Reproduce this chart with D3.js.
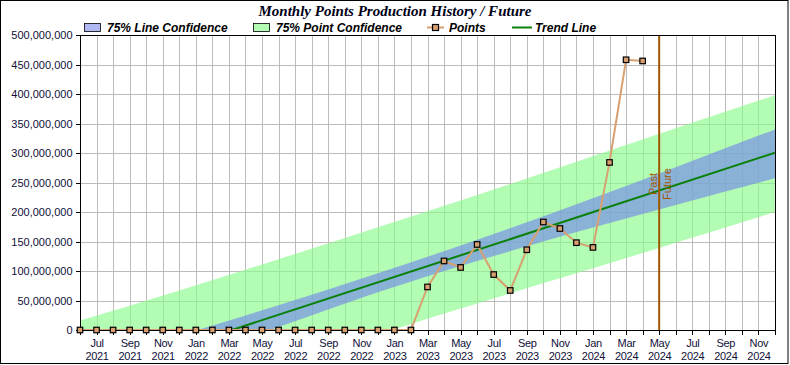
<!DOCTYPE html>
<meta charset="utf-8">
<style>
body { margin: 0; background: #fff; }
svg { display: block; font-family: Arial, "Liberation Sans", sans-serif; }
.axis text { font-size: 11px; fill: #101038; }
.axis path, .axis line { stroke: #000; shape-rendering: crispEdges; }
.grid line { stroke: #bcbcbc; shape-rendering: crispEdges; }
</style>
<body>
<script src="https://d3js.org/d3.v7.min.js"></script>
<script>
var width = 790, height = 365;
var plotLeft = 80, plotRight = 775, plotTop = 35, plotBottom = 330;

// months on the x axis (one slot per month)
var months = [
  "2021-06","2021-07","2021-08","2021-09","2021-10","2021-11","2021-12",
  "2022-01","2022-02","2022-03","2022-04","2022-05","2022-06","2022-07","2022-08","2022-09","2022-10","2022-11","2022-12",
  "2023-01","2023-02","2023-03","2023-04","2023-05","2023-06","2023-07","2023-08","2023-09","2023-10","2023-11","2023-12",
  "2024-01","2024-02","2024-03","2024-04","2024-05","2024-06","2024-07","2024-08","2024-09","2024-10","2024-11","2024-12"
];
var monthNames = ["Jan","Feb","Mar","Apr","May","Jun","Jul","Aug","Sep","Oct","Nov","Dec"];

// monthly points, millions (Jun 2021 .. Apr 2024)
var points = [0,0,0,0,0,0,0, 0,0,0,0,0,0,0,0,0,0,0,0, 0,0,
  73,117,106,145,94,67,136,183,172,148, 140,284,458,456];

// trend line and confidence bands, millions, read at these months
var trendMonths = ["2021-06","2024-12"];
var trend = [-84, 300.5];
var bandMonths = ["2021-06","2021-12","2022-06","2022-12","2023-06","2023-12","2024-06","2024-12"];
var lineUpper  = [-55, -9, 42, 96, 153, 213, 276, 340];
var lineLower  = [-115, -52, 5, 64, 117, 166, 212, 257];
var pointUpper = [16, 67, 120, 174, 229, 285, 342, 398];
var pointLower = [-184, -125, -68, -8, 45, 96, 148, 200];

var yTicks = [0,50,100,150,200,250,300,350,400,450,500];
var splitMonth = "2024-05";

var svg = d3.select("body").append("svg")
  .attr("width", width)
  .attr("height", height);

var x = d3.scalePoint().domain(months).range([plotLeft, plotRight]);
var y = d3.scaleLinear().domain([0, 500]).range([plotBottom, plotTop]);

svg.append("rect")
  .attr("x", 0.5).attr("y", 0.5)
  .attr("width", 787.5).attr("height", 363)
  .attr("fill", "#fff").attr("stroke", "#000");

svg.append("defs").append("clipPath").attr("id", "plot")
  .append("rect")
  .attr("x", plotLeft).attr("y", plotTop)
  .attr("width", plotRight - plotLeft).attr("height", plotBottom - plotTop);

// grid
var grid = svg.append("g").attr("class", "grid");
grid.selectAll(".v").data(months.slice(1, -1)).enter().append("line")
  .attr("x1", d => x(d) + 0.5).attr("x2", d => x(d) + 0.5)
  .attr("y1", plotTop).attr("y2", plotBottom);
grid.selectAll(".h").data(yTicks.slice(1, -1)).enter().append("line")
  .attr("x1", plotLeft).attr("x2", plotRight)
  .attr("y1", d => y(d) + 0.5).attr("y2", d => y(d) + 0.5);

var plot = svg.append("g").attr("clip-path", "url(#plot)");

function band(up, lo) {
  return d3.area()
    .x((d, i) => x(bandMonths[i]))
    .y0((d, i) => y(lo[i]))
    .y1((d, i) => y(up[i]))
    .curve(d3.curveMonotoneX)(bandMonths);
}

plot.append("path")
  .attr("d", band(pointUpper, pointLower))
  .attr("fill", "rgb(138,250,138)")
  .attr("fill-opacity", 0.65);

plot.append("path")
  .attr("d", band(lineUpper, lineLower))
  .attr("fill", "rgb(116,136,234)")
  .attr("fill-opacity", 0.65);

plot.append("path")
  .attr("d", d3.line().x((d, i) => x(trendMonths[i])).y(d => y(d))(trend))
  .attr("fill", "none")
  .attr("stroke", "#0a800a")
  .attr("stroke-width", 2);

// past / future split
svg.append("line")
  .attr("x1", x(splitMonth)).attr("x2", x(splitMonth))
  .attr("y1", plotTop).attr("y2", plotBottom)
  .attr("stroke", "#a05800")
  .attr("stroke-width", 2);

svg.append("text")
  .attr("transform", "translate(" + (x(splitMonth) - 2.5) + ",184) rotate(-90)")
  .attr("text-anchor", "middle")
  .attr("font-size", 11)
  .attr("fill", "#a05800")
  .text("Past");
svg.append("text")
  .attr("transform", "translate(" + (x(splitMonth) + 11.5) + ",184) rotate(-90)")
  .attr("text-anchor", "middle")
  .attr("font-size", 11)
  .attr("fill", "#a05800")
  .text("Future");

// points
var ptMonths = months.slice(0, points.length);
plot.append("path")
  .attr("d", d3.line().x((d, i) => x(ptMonths[i])).y(d => y(d))(points))
  .attr("fill", "none")
  .attr("stroke", "#d8a070")
  .attr("stroke-width", 2);

// frame around plot area
svg.append("rect")
  .attr("x", plotLeft + 0.5).attr("y", plotTop + 0.5)
  .attr("width", plotRight - plotLeft).attr("height", plotBottom - plotTop)
  .attr("fill", "none").attr("stroke", "#000");

// axes
var yAxis = d3.axisLeft(y)
  .tickValues(yTicks)
  .tickSize(5)
  .tickPadding(3)
  .tickFormat(d => d3.format(",")(d * 1000000));
svg.append("g")
  .attr("class", "axis")
  .attr("transform", "translate(" + (plotLeft + 0.5) + ",0)")
  .call(yAxis)
  .call(g => g.select(".domain").remove());

var xAxis = d3.axisBottom(x).tickSize(4).tickFormat("");
var xg = svg.append("g")
  .attr("class", "axis")
  .attr("transform", "translate(0," + (plotBottom + 0.5) + ")")
  .call(xAxis)
  .call(g => g.select(".domain").remove());

xg.selectAll(".tick").each(function(d, i) {
  if (i % 2 == 0) return;
  var parts = d.split("-");
  var t = d3.select(this).append("text")
    .attr("text-anchor", "middle")
    .attr("letter-spacing", "-0.3px");
  t.append("tspan").attr("x", 0).attr("y", 16.5).text(monthNames[+parts[1] - 1]);
  t.append("tspan").attr("x", 0).attr("y", 29).text(parts[0]);
});

// markers on top
svg.append("g").selectAll("rect").data(points).enter().append("rect")
  .attr("x", (d, i) => x(ptMonths[i]) - 2.75)
  .attr("y", d => y(d) - 2.75)
  .attr("width", 5.5).attr("height", 5.5)
  .attr("fill", "#d8a070")
  .attr("stroke", "#000")
  .attr("stroke-width", 1.2);

// title
svg.append("text")
  .attr("x", 395).attr("y", 16)
  .attr("text-anchor", "middle")
  .attr("font-family", "'Liberation Serif', 'Times New Roman', serif")
  .attr("font-weight", "bold")
  .attr("font-style", "italic")
  .attr("font-size", 15)
  .attr("fill", "#000018")
  .text("Monthly Points Production History / Future");

// legend
var lg = svg.append("g")
  .attr("font-weight", "bold")
  .attr("font-style", "italic")
  .attr("font-size", 12);

lg.append("rect").attr("x", 84.5).attr("y", 23.5).attr("width", 16).attr("height", 8)
  .attr("fill", "#b0b8f4").attr("stroke", "#000").attr("stroke-width", 0.8);
lg.append("text").attr("x", 107).attr("y", 32).text("75% Line Confidence");

lg.append("rect").attr("x", 253.5).attr("y", 23.5).attr("width", 16).attr("height", 8)
  .attr("fill", "#b3fcb3").attr("stroke", "#000").attr("stroke-width", 0.8);
lg.append("text").attr("x", 276).attr("y", 32).text("75% Point Confidence");

lg.append("line").attr("x1", 427).attr("x2", 444).attr("y1", 27.5).attr("y2", 27.5)
  .attr("stroke", "#d8a070").attr("stroke-width", 2);
lg.append("rect").attr("x", 432.5).attr("y", 24.5).attr("width", 6).attr("height", 6)
  .attr("fill", "#d8a070").attr("stroke", "#000").attr("stroke-width", 1.2);
lg.append("text").attr("x", 449).attr("y", 32).text("Points");

lg.append("line").attr("x1", 512).attr("x2", 532).attr("y1", 27.5).attr("y2", 27.5)
  .attr("stroke", "#0a800a").attr("stroke-width", 2);
lg.append("text").attr("x", 535).attr("y", 32).text("Trend Line");
</script>
</body>
